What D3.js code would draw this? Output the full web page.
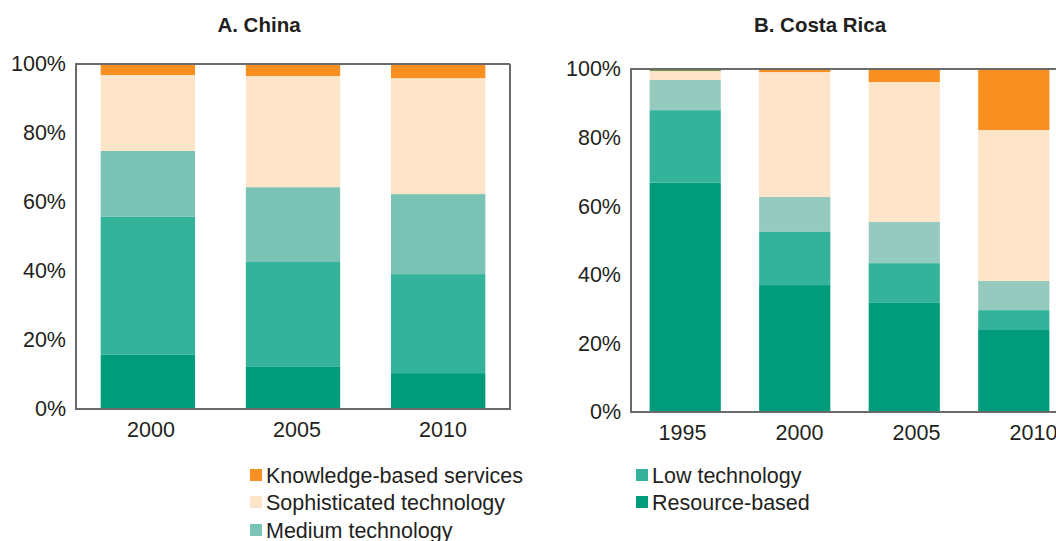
<!DOCTYPE html>
<html><head><meta charset="utf-8">
<script src="https://cdn.jsdelivr.net/npm/d3@7"></script>
<style>
body{margin:0;background:#fff;}
svg{display:block;font-family:"Liberation Sans",Arial,Helvetica,sans-serif;}
</style></head>
<body>
<svg id="c" width="1056" height="541"></svg>
<script>
// ---- data ----
const seriesKeys = ["resource","low","medium","sophisticated","knowledge","other"];
const legendLabels = ["Knowledge-based services","Sophisticated technology","Medium technology","Low technology","Resource-based"];
const yTicks = [0,20,40,60,80,100];

const chinaYears = ["2000","2005","2010"];
const chinaResource = [15.7,12.2,10.4];
const chinaLow = [40.0,30.4,28.7];
const chinaMedium = [19.1,21.7,23.2];
const chinaSophisticated = [22.0,32.2,33.6];
const chinaKnowledge = [3.2,3.5,4.1];
const chinaOther = [0,0,0];

const costaYears = ["1995","2000","2005","2010"];
const costaResource = [66.9,37.0,31.8,23.9];
const costaLow = [21.1,15.5,11.6,5.8];
const costaMedium = [8.8,10.2,12.0,8.5];
const costaSophisticated = [2.6,36.4,40.8,44.0];
const costaKnowledge = [0,0.9,3.8,17.8];
const costaOther = [0.6,0,0,0];

const colors = {
  resource:"#009b7b", low:"#35b39a", sophisticated:"#fee4c9",
  knowledge:"#f79020", other:"#7d9b4f"
};
const mediumChina = "#7bc4b5", mediumCosta = "#95cbbf";
const textColor = "#231f20";

function rows(years, arrs){
  return years.map((y,i)=>{
    const r={year:y};
    seriesKeys.forEach((k,j)=>r[k]=arrs[j][i]);
    return r;
  });
}
const chinaData = rows(chinaYears,[chinaResource,chinaLow,chinaMedium,chinaSophisticated,chinaKnowledge,chinaOther]);
const costaData = rows(costaYears,[costaResource,costaLow,costaMedium,costaSophisticated,costaKnowledge,costaOther]);

const svg = d3.select("#c");

function panel(opts){
  const {data, years, x0, x1, yTop, yBot, title, titleX, medium, rightEdge, labelRange} = opts;
  const x = d3.scaleBand().domain(years).range([x0,x1]).paddingInner(0.35).paddingOuter(0.17);
  const xl = d3.scaleBand().domain(years).range(labelRange);
  const y = d3.scaleLinear().domain([0,100]).range([yBot,yTop]);
  const g = svg.append("g");
  const stack = d3.stack().keys(seriesKeys)(data);
  g.selectAll("g.s").data(stack).join("g")
    .attr("fill", d=> d.key==="medium" ? medium : colors[d.key])
    .selectAll("rect").data(d=>d).join("rect")
    .attr("x", d=>x(d.data.year))
    .attr("width", x.bandwidth())
    .attr("y", d=>y(d[1]))
    .attr("height", d=>Math.max(0,y(d[0])-y(d[1])));
  // frame
  g.append("path")
    .attr("d", rightEdge
      ? `M${x1},${yTop}H${x0}V${yBot}H${x1}V${yTop}`
      : `M${x1},${yTop}H${x0}V${yBot}H${x1}`)
    .attr("fill","none").attr("stroke","#6a6a6a").attr("stroke-width",2);
  // y axis
  const ya = g.append("g").attr("transform",`translate(${x0},0)`)
    .call(d3.axisLeft(y).tickValues(yTicks).tickFormat(d=>d+"%").tickSize(0).tickPadding(10));
  ya.select(".domain").remove();
  ya.selectAll("text").attr("font-size",21.5).attr("fill",textColor).attr("font-family","Liberation Sans, Arial, sans-serif");
  // x axis
  const xa = g.append("g").attr("transform",`translate(0,${yBot})`)
    .call(d3.axisBottom(xl).tickSize(0).tickPadding(13));
  xa.select(".domain").remove();
  xa.selectAll("text").attr("font-size",21.5).attr("fill",textColor).attr("font-family","Liberation Sans, Arial, sans-serif");
  // title
  svg.append("text").attr("x",titleX).attr("y",32).attr("text-anchor","middle")
    .attr("font-size",20.5).attr("font-weight","bold").attr("fill",textColor).text(title);
}

panel({data:chinaData, years:chinaYears, x0:76, x1:510, yTop:64, yBot:409,
  title:"A. China", titleX:259, medium:mediumChina, rightEdge:true, labelRange:[78,516]});
panel({data:costaData, years:costaYears, x0:631, x1:1068, yTop:69, yBot:412,
  title:"B. Costa Rica", titleX:820, medium:mediumCosta, rightEdge:false, labelRange:[624,1092]});

// legend
const legendColors = [colors.knowledge, colors.sophisticated, mediumChina, colors.low, colors.resource];
const legPos = [[250,469],[250,496],[250,524],[636,469],[636,496]];
const lg = svg.append("g");
legendLabels.forEach((lab,i)=>{
  const [lx,ly] = legPos[i];
  lg.append("rect").attr("x",lx).attr("y",ly).attr("width",12).attr("height",12).attr("fill",legendColors[i]);
  lg.append("text").attr("x",lx+16).attr("y",ly+13.5).attr("font-size",21.5).attr("fill",textColor).text(lab);
});
</script>
</body></html>
